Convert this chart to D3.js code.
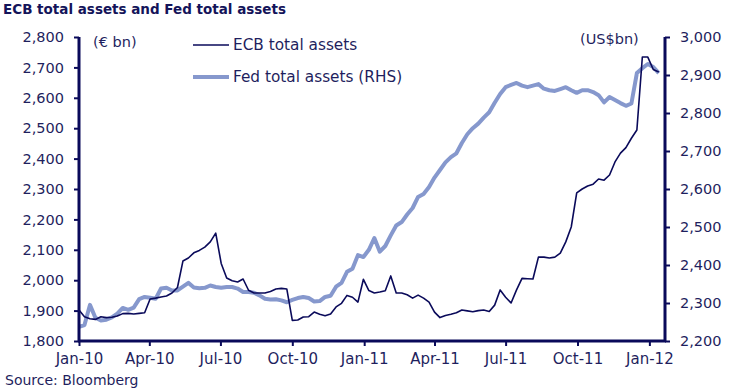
<!DOCTYPE html>
<html>
<head>
<meta charset="utf-8">
<script src="https://cdn.jsdelivr.net/npm/d3@7"></script>
<style>
  html, body { margin: 0; padding: 0; background: #fff; }
  svg { display: block; font-family: "DejaVu Sans", Verdana, sans-serif; }
</style>
</head>
<body>
<svg id="chart" width="752" height="392"></svg>
<script>
// ---- Data (weekly, Fridays, 1 Jan 2010 – 13 Jan 2012) ----
const startDate = "2010-01-01";
const endDate = "2012-01-13";

const ecbAssets = [
  1902, 1880, 1873, 1871, 1880, 1877, 1878, 1882, 1890, 1891,
  1889, 1891, 1893, 1938, 1941, 1945, 1948, 1958, 1976, 2063,
  2073, 2090, 2098, 2109, 2126, 2155, 2055, 2007, 1998, 1994,
  2004, 1967, 1958, 1958, 1958, 1963, 1971, 1973, 1971, 1868,
  1869, 1879, 1880, 1895, 1888, 1883, 1889, 1912, 1924, 1950,
  1944, 1928, 2003, 1966, 1958, 1961, 1965, 2014, 1958, 1958,
  1952, 1941, 1951, 1941, 1928, 1895, 1877, 1884, 1888, 1893,
  1902, 1899, 1896, 1900, 1902, 1897, 1918, 1968, 1944, 1925,
  1968, 2006, 2005, 2004, 2076, 2076, 2073, 2076, 2089, 2126,
  2175, 2287, 2300, 2310, 2316, 2333, 2329, 2346, 2389, 2418,
  2436, 2467, 2494, 2734, 2734, 2693, 2685
];

const fedAssets = [
  2237, 2242, 2295, 2261, 2254, 2256, 2262, 2272, 2287, 2282,
  2288, 2310, 2316, 2314, 2311, 2338, 2340, 2333, 2333, 2343,
  2353, 2341, 2339, 2340, 2346, 2342, 2340, 2342, 2342, 2338,
  2329, 2329, 2327, 2320, 2311, 2309, 2310, 2307, 2302, 2308,
  2313, 2316, 2313, 2304, 2305, 2316, 2319, 2343, 2353, 2382,
  2390, 2426, 2421, 2440, 2471, 2435, 2450, 2478, 2504, 2513,
  2533, 2550, 2579, 2587, 2605, 2630, 2650, 2670, 2684, 2694,
  2721, 2744, 2760, 2772, 2788, 2802, 2827, 2850, 2868, 2874,
  2879, 2872, 2868, 2872, 2876, 2864, 2860, 2858, 2863, 2868,
  2860, 2853, 2860, 2860, 2855, 2847, 2828, 2842, 2834, 2826,
  2819, 2825, 2905, 2918, 2929, 2921, 2905
];

const xTickLabels = ["Jan-10","Apr-10","Jul-10","Oct-10","Jan-11","Apr-11","Jul-11","Oct-11","Jan-12"];
const leftTicks = [1800,1900,2000,2100,2200,2300,2400,2500,2600,2700,2800];
const rightTicks = [2200,2300,2400,2500,2600,2700,2800,2900,3000];

const title = "ECB total assets and Fed total assets";
const seriesNames = ["ECB total assets", "Fed total assets (RHS)"];
const source = "Source: Bloomberg";

// ---- Build ----
const parse = d3.timeParse("%Y-%m-%d");
const weeks = d3.timeDay.range(parse(startDate), d3.timeDay.offset(parse(endDate), 1), 7);
const ecb = weeks.map((d, i) => ({ date: d, v: ecbAssets[i] }));
const fed = weeks.map((d, i) => ({ date: d, v: fedAssets[i] }));
const tickDates = xTickLabels.map(s => d3.timeParse("%b-%y")(s));

const navy = "#0a0a5a";
const textCol = "#1f1f5e";
const fedCol = "#8698cd";

const L = 79, R = 665, T = 37, B = 341;
const svg = d3.select("#chart");

const x = d3.scaleTime().domain([parse("2010-01-01"), parse("2012-01-21")]).range([L, R]);
const yL = d3.scaleLinear().domain([1800, 2800]).range([B, T]);
const yR = d3.scaleLinear().domain([2200, 3000]).range([B, T]);

// Title
svg.append("text").attr("x", 3).attr("y", 14)
  .attr("font-size", 13.5).attr("font-weight", "bold").attr("fill", "#14145a")
  .text(title);

// Lines
const lineL = d3.line().x(d => x(d.date)).y(d => yL(d.v));
const lineR = d3.line().x(d => x(d.date)).y(d => yR(d.v));

svg.append("path").datum(fed).attr("d", lineR)
  .attr("fill", "none").attr("stroke", fedCol).attr("stroke-width", 4)
  .attr("stroke-linejoin", "round");
svg.append("path").datum(ecb).attr("d", lineL)
  .attr("fill", "none").attr("stroke", navy).attr("stroke-width", 1.6)
  .attr("stroke-linejoin", "round");

// Axes
function styleAxis(g, fs) {
  g.selectAll(".domain").remove();
  g.selectAll(".tick line").attr("stroke", navy).attr("stroke-width", 2);
  g.selectAll(".tick text").attr("fill", textCol).attr("font-size", fs)
    .attr("font-family", "DejaVu Sans, Verdana, sans-serif");
}

svg.append("g").attr("transform", `translate(${L},0)`)
  .call(d3.axisLeft(yL).tickValues(leftTicks).tickFormat(d3.format(",")).tickSize(5).tickPadding(10))
  .call(g => styleAxis(g, 14.5));

svg.append("g").attr("transform", `translate(${R},0)`)
  .call(d3.axisRight(yR).tickValues(rightTicks).tickFormat(d3.format(",")).tickSize(5).tickPadding(10))
  .call(g => styleAxis(g, 14.5));

svg.append("g").attr("transform", `translate(0,${B})`)
  .call(d3.axisBottom(x).tickValues(tickDates).tickFormat(d3.timeFormat("%b-%y")).tickSize(5).tickPadding(7))
  .call(g => styleAxis(g, 15));

// Axis lines
svg.append("line").attr("x1", L).attr("x2", L).attr("y1", T).attr("y2", B + 1)
  .attr("stroke", navy).attr("stroke-width", 3);
svg.append("line").attr("x1", R).attr("x2", R).attr("y1", T).attr("y2", B + 1)
  .attr("stroke", navy).attr("stroke-width", 3);
svg.append("line").attr("x1", L - 1).attr("x2", R + 1).attr("y1", B).attr("y2", B)
  .attr("stroke", navy).attr("stroke-width", 3);

// Unit labels
svg.append("text").attr("x", 93).attr("y", 47).attr("font-size", 14.5).attr("fill", textCol).text("(€ bn)");
svg.append("text").attr("x", 580).attr("y", 44).attr("font-size", 14.5).attr("fill", textCol).text("(US$bn)");

// Legend
const leg = svg.append("g");
leg.append("line").attr("x1", 193).attr("x2", 229).attr("y1", 45).attr("y2", 45)
  .attr("stroke", navy).attr("stroke-width", 1.6);
leg.append("text").attr("x", 233).attr("y", 50).attr("font-size", 15.3).attr("fill", textCol).text(seriesNames[0]);
leg.append("line").attr("x1", 193).attr("x2", 229).attr("y1", 77).attr("y2", 77)
  .attr("stroke", fedCol).attr("stroke-width", 4);
leg.append("text").attr("x", 233).attr("y", 82).attr("font-size", 15.3).attr("fill", textCol).text(seriesNames[1]);

// Source
svg.append("text").attr("x", 5).attr("y", 385).attr("font-size", 14).attr("fill", textCol).text(source);
</script>
</body>
</html>
